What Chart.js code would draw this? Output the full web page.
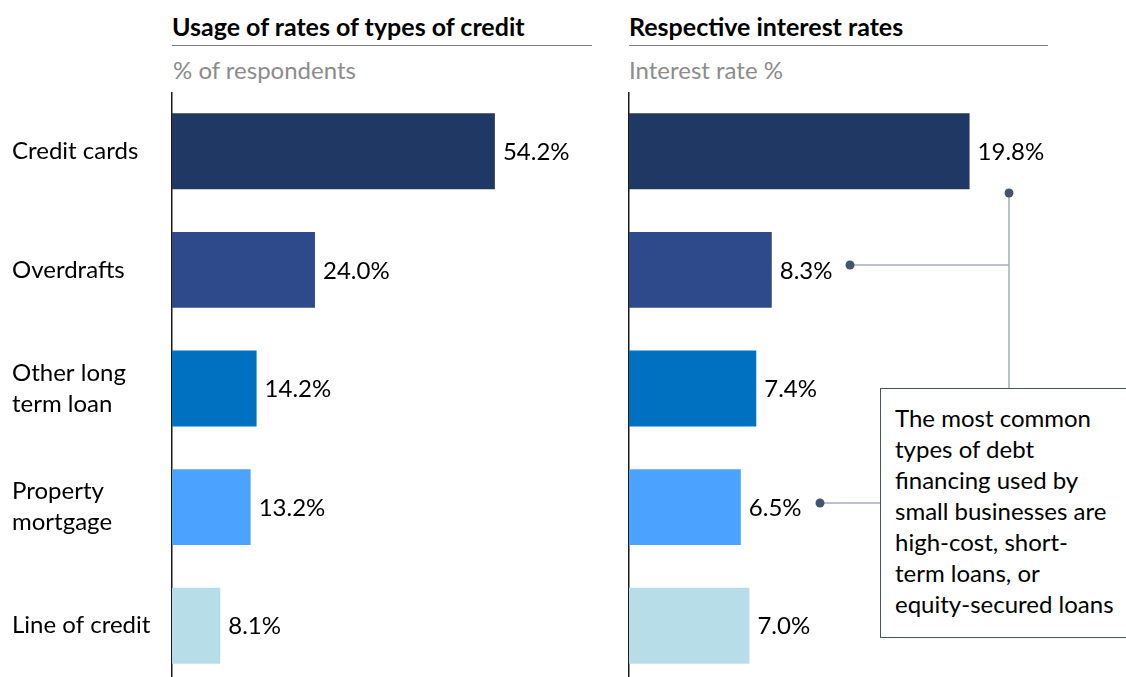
<!DOCTYPE html>
<html lang="en">
<head>
<meta charset="UTF-8">
<title>Types of credit and interest rates</title>
<script src="https://cdn.jsdelivr.net/npm/chart.js"></script>
<style>
    html, body { margin: 0; padding: 0; width: 1126px; height: 677px; overflow: hidden; background: #fff; font-family: Lato, "Noto Sans", sans-serif; }
    .title { position: absolute; top: 11px; font-size: 25px; font-weight: bold; color: #000; line-height: 30px; padding-bottom: 4px; border-bottom: 1px solid #7f7f7f; }
    .subtitle { position: absolute; top: 55px; font-size: 24px; color: #8c8c8c; line-height: 30px; }
    .chart-box { position: absolute; top: 92px; height: 593px; }
    #note { position: absolute; left: 880px; top: 388px; width: 270px; height: 250px; border: 1.5px solid #44546a; background: #fff;
            box-sizing: border-box; padding: 13px 0 0 14px; font-size: 24px; line-height: 31px; color: #000; }
</style>
</head>
<body>
    <div class="title" style="left:172px; width:420px;">Usage of rates of types of credit</div>
    <div class="subtitle" style="left:173px;">% of respondents</div>
    <div class="title" style="left:629px; width:419px;">Respective interest rates</div>
    <div class="subtitle" style="left:629px;">Interest rate %</div>

    <div class="chart-box" style="left:12px; width:577px;"><canvas id="usage-chart"></canvas></div>
    <div class="chart-box" style="left:620px; width:506px;"><canvas id="rate-chart"></canvas></div>

    <div id="note">The most common<br>types of debt<br>financing used by<br>small businesses are<br>high-cost, short-<br>term loans, or<br>equity-secured loans</div>

<script>
    const categories = [['Credit cards'], ['Overdrafts'], ['Other long', 'term loan'], ['Property', 'mortgage'], ['Line of credit']];
    const usageValues = [54.2, 24.0, 14.2, 13.2, 8.1];
    const interestValues = [19.8, 8.3, 7.4, 6.5, 7.0];

    const barColours = ['#203864', '#2f4a8b', '#0070c0', '#4ca3ff', '#b7dde8'];
    const FONT = 'Lato, "Noto Sans", sans-serif';

    // draws "54.2%" etc. just right of each bar
    const valueLabels = {
        id: 'valueLabels',
        afterDatasetsDraw(chart) {
            const ctx = chart.ctx;
            const values = chart.data.datasets[0].data;
            ctx.save();
            ctx.font = '24px ' + FONT;
            ctx.fillStyle = '#000';
            ctx.textBaseline = 'middle';
            chart.getDatasetMeta(0).data.forEach((bar, i) => {
                ctx.fillText(values[i].toFixed(1) + '%', bar.x + 8, bar.y + 1);
            });
            ctx.restore();
        }
    };

    // callout connectors on the right chart (page coords shifted by canvas origin)
    const callouts = {
        id: 'callouts',
        afterDraw(chart) {
            const ctx = chart.ctx;
            const ox = 620, oy = 92;
            const seg = (x1, y1, x2, y2) => {
                ctx.beginPath();
                ctx.moveTo(x1 - ox, y1 - oy);
                ctx.lineTo(x2 - ox, y2 - oy);
                ctx.stroke();
            };
            const dot = (x, y) => {
                ctx.beginPath();
                ctx.arc(x - ox, y - oy, 4.5, 0, Math.PI * 2);
                ctx.fill();
            };
            ctx.save();
            ctx.strokeStyle = '#a3abbb';
            ctx.lineWidth = 1.5;
            seg(1009, 193, 1009, 388);
            seg(850, 265, 1009, 265);
            seg(820, 503, 880, 503);
            ctx.fillStyle = '#44546a';
            dot(1009, 193);
            dot(850, 265);
            dot(820, 503);
            ctx.restore();
        }
    };

    function makeChart(id, values, xMax, yWidth, showLabels, padRight, extraPlugins) {
        return new Chart(document.getElementById(id), {
            type: 'bar',
            data: {
                labels: categories,
                datasets: [{
                    data: values,
                    backgroundColor: barColours,
                    borderWidth: 0,
                    barPercentage: 0.8,
                    categoryPercentage: 0.8
                }]
            },
            options: {
                indexAxis: 'y',
                responsive: true,
                maintainAspectRatio: false,
                animation: false,
                layout: { padding: { left: 0, right: padRight, top: 0, bottom: 0 } },
                plugins: { legend: { display: false }, tooltip: { enabled: false } },
                scales: {
                    x: { display: false, min: 0, max: xMax },
                    y: {
                        grid: { display: false },
                        border: { display: true, color: '#1a1a1a', width: 1.5 },
                        ticks: {
                            display: showLabels,
                            crossAlign: 'far',
                            color: '#000',
                            padding: 0,
                            font: { family: FONT, size: 24, lineHeight: 1.3 }
                        },
                        afterFit(scale) {
                            scale.width = yWidth;
                            // labels sit mid-band, no need to shrink the plot
                            scale.paddingTop = 0;
                            scale.paddingBottom = 0;
                        }
                    }
                }
            },
            plugins: [valueLabels].concat(extraPlugins)
        });
    }

    makeChart('usage-chart', usageValues, 70, 160, true, 0, []);
    makeChart('rate-chart', interestValues, 25, 9, false, 67, [callouts]);
</script>
</body>
</html>
